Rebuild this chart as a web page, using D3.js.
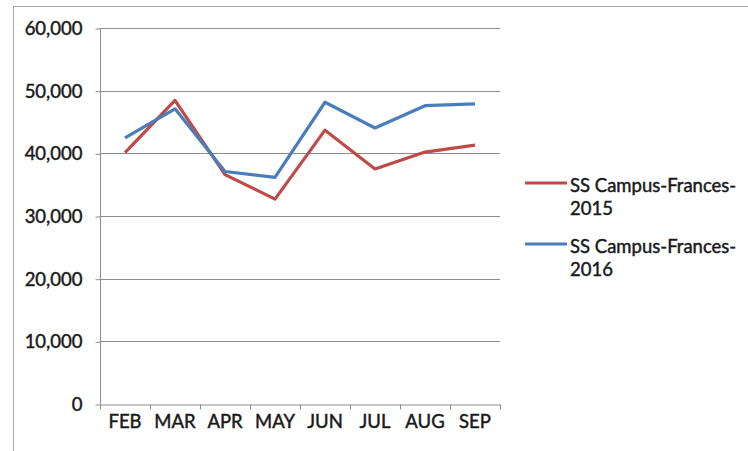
<!DOCTYPE html>
<html>
<head>
<meta charset="utf-8">
<script src="https://cdn.jsdelivr.net/npm/d3@7"></script>
<style>
  body { margin: 0; background: #fff; }
  svg { display: block; }
  text { font-family: Lato, "Open Sans", sans-serif; fill: #1a1a1a; }
</style>
</head>
<body>
<script>
// Data
const months = ["FEB", "MAR", "APR", "MAY", "JUN", "JUL", "AUG", "SEP"];
const campus2015 = [40100, 48450, 36600, 32700, 43700, 37500, 40200, 41300];
const campus2016 = [42450, 47100, 37100, 36150, 48150, 44050, 47600, 47900];
const seriesNames = ["SS Campus-Frances-2015", "SS Campus-Frances-2016"];
const yTicks = [0, 10000, 20000, 30000, 40000, 50000, 60000];

// Constants
const width = 748;
const height = 451;
const margin = {top: 28, right: 248, bottom: 47, left: 100};
const gridColor = "#8c8c8c";
const colors = ["#be4b48", "#4a7ebb"];
const fontSize = "18.5px";

const styleText = function(sel) {
    sel.style("font-size", fontSize)
        .attr("fill", "#1a1a1a")
        .attr("stroke", "#1a1a1a")
        .attr("stroke-width", 0.45);
}

const svg = d3.select("body")
    .append("svg")
    .attr("width", width)
    .attr("height", height);

// outer chart frame (right/bottom edges fall off the picture)
svg.append("rect")
    .attr("x", 13.5)
    .attr("y", 6.5)
    .attr("width", 760)
    .attr("height", 460)
    .attr("fill", "none")
    .attr("stroke", "#a6a6a6");

const xScale = d3.scaleBand()
    .domain(months)
    .range([margin.left, width - margin.right]);
const yScale = d3.scaleLinear()
    .domain([0, 60000])
    .range([height - margin.bottom, margin.top]);

// gridlines
svg.append("g")
    .selectAll("line")
    .data(yTicks.filter(d => d > 0))
    .join("line")
    .attr("x1", margin.left)
    .attr("x2", width - margin.right)
    .attr("y1", d => Math.round(yScale(d)) + 0.5)
    .attr("y2", d => Math.round(yScale(d)) + 0.5)
    .attr("stroke", gridColor)
    .attr("stroke-width", 1);

// y axis
const yAxis = svg.append("g")
    .attr("transform", `translate(${margin.left + 0.5},0.5)`)
    .call(d3.axisLeft(yScale)
        .tickValues(yTicks)
        .tickFormat(d3.format(","))
        .tickSize(5)
        .tickPadding(13));
yAxis.select(".domain").attr("stroke", gridColor).attr("d", `M0,${yScale(60000)}V${yScale(0)}`);
yAxis.selectAll(".tick line").attr("stroke", gridColor);
yAxis.selectAll(".tick text").call(styleText);

// x axis with ticks at band edges
const xAxis = svg.append("g")
    .attr("transform", `translate(0,${Math.round(yScale(0)) + 0.5})`)
    .call(d3.axisBottom(xScale).tickSize(0).tickPadding(10));
xAxis.select(".domain").attr("stroke", gridColor);
xAxis.selectAll(".tick text").call(styleText);
xAxis.append("g")
    .selectAll("line")
    .data(months.map(m => xScale(m)).concat([xScale.range()[1]]))
    .join("line")
    .attr("x1", d => Math.round(d) + 0.5)
    .attr("x2", d => Math.round(d) + 0.5)
    .attr("y1", 0)
    .attr("y2", 5)
    .attr("stroke", gridColor);

// lines
const line = d3.line()
    .x((d, i) => xScale(months[i]) + xScale.bandwidth() / 2)
    .y(d => yScale(d));

[campus2015, campus2016].forEach((data, k) => {
    svg.append("path")
        .datum(data)
        .attr("fill", "none")
        .attr("stroke", colors[k])
        .attr("stroke-width", 3.2)
        .attr("stroke-linejoin", "round")
        .attr("d", line);
});

// legend
const legend = svg.append("g").attr("transform", "translate(525,183)");
seriesNames.forEach((name, k) => {
    const g = legend.append("g").attr("transform", `translate(0,${k * 61})`);
    g.append("line")
        .attr("x1", 0)
        .attr("x2", 42)
        .attr("stroke", colors[k])
        .attr("stroke-width", 3.2);
    const parts = name.match(/^(.*-)(\d{4})$/);
    const t = g.append("text")
        .attr("x", 45)
        .call(styleText);
    t.append("tspan").attr("x", 45).attr("y", 9).text(parts[1]);
    t.append("tspan").attr("x", 45).attr("y", 32).text(parts[2]);
});
</script>
</body>
</html>
